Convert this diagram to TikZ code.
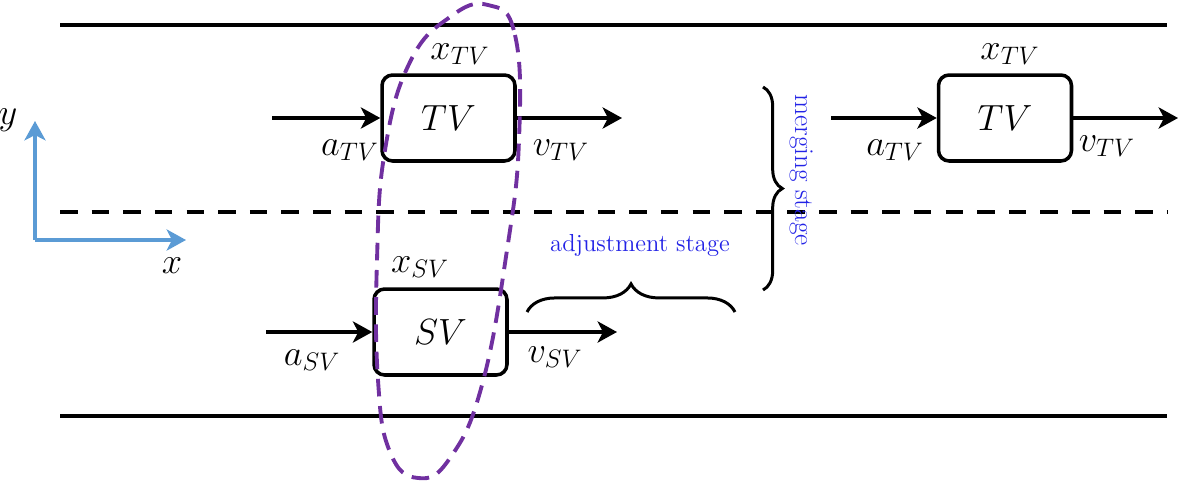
\documentclass[tikz,border=0pt]{standalone}
\usetikzlibrary{arrows.meta,decorations.pathreplacing,calc}
\definecolor{axisblue}{RGB}{91,155,213}
\definecolor{ellpurple}{RGB}{112,48,160}
\definecolor{txtblue}{RGB}{35,35,230}
\begin{document}
\begin{tikzpicture}[x=0.02cm,y=-0.02cm,
  road/.style={line width=2.3pt},
  laneline/.style={line width=2.3pt, dash pattern=on 10pt off 8pt},
  veh/.style={draw, line width=2pt, rounded corners=6pt, minimum width=2.66cm, minimum height=1.72cm, inner sep=0pt, font=\fontsize{22}{26}\selectfont},
  arr/.style={line width=2pt, -{Stealth[length=11pt,width=12pt,inset=3pt]}},
  axarr/.style={line width=2.3pt, axisblue, -{Stealth[length=11pt,width=12pt,inset=3pt]}},
  lbl/.style={inner sep=0pt, font=\fontsize{20}{24}\selectfont},
  ell/.style={line width=2.2pt, ellpurple, dash pattern=on 10pt off 5.5pt},
  bracestyle/.style={line width=1.7pt, decorate},
  stagetxt/.style={inner sep=0pt, text=txtblue}
]
\useasboundingbox (0,0) rectangle (1179,480);
% road
\coordinate (rtl) at (60,25); \coordinate (rtr) at (1167,25);
\coordinate (rbl) at (60,416); \coordinate (rbr) at (1167,416);
\coordinate (rml) at (60,212); \coordinate (rmr) at (1167,212);
\draw[road] (rtl) -- (rtr);
\draw[road] (rbl) -- (rbr);
\draw[laneline] (rml) -- (rmr);
% vehicles
\node[veh] (tv1) at (448.5,118) {$TV$};
\node[veh] (sv) at (440.5,332) {$SV$};
\node[veh] (tv2) at (1005,118) {$TV$};
% arrows
\coordinate (tv1in) at (272,118);
\coordinate (tv1out) at (622,118);
\coordinate (svin) at (266,332);
\coordinate (svout) at (617,332);
\coordinate (tv2in) at (831,118);
\coordinate (tv2out) at (1178,118);
\draw[arr] (tv1in) -- (tv1.west);
\draw[arr] (tv1.east) -- (tv1out);
\draw[arr] (svin) -- (sv.west);
\draw[arr] (sv.east) -- (svout);
\draw[arr] (tv2in) -- (tv2.west);
\draw[arr] (tv2.east) -- (tv2out);
% labels
\node[lbl] (xtv1) at (460,54) {$x_{TV}$};
\node[lbl] (atv1) at (350,150) {$a_{TV}$};
\node[lbl] (vtv1) at (561,150) {$v_{TV}$};
\node[lbl] (xsv) at (420,267) {$x_{SV}$};
\node[lbl] (asv) at (312,360) {$a_{SV}$};
\node[lbl] (vsv) at (555,357) {$v_{SV}$};
\node[lbl] (xtv2) at (1010,54) {$x_{TV}$};
\node[lbl] (atv2) at (895,150) {$a_{TV}$};
\node[lbl] (vtv2) at (1107,146) {$v_{TV}$};
% axes
\coordinate (o) at (35,240);
\coordinate (yend) at (35,121);
\coordinate (xend) at (186,240);
\draw[axarr] (o) -- (yend);
\draw[axarr] (o) -- (xend);
\node[lbl] (ylbl) at (8,120) {$y$};
\node[lbl] (xlbl) at (172,266) {$x$};
% dashed loop around TV and SV
\draw[ell] plot[smooth cycle, tension=0.75] coordinates {
  (488,5) (515,35) (519,140) (507,250) (482,385) (450,458)
  (418,478) (390,452) (378,380) (377,260) (385,150) (410,62) (450,17)};
% braces
\coordinate (b1a) at (527,312); \coordinate (b1b) at (735,312);
\draw[bracestyle, decoration={brace, amplitude=16pt}] (b1a) -- (b1b);
\node[stagetxt, font=\fontsize{14}{17}\selectfont] (adj) at (640,245) {adjustment stage};
\coordinate (b2a) at (763,87); \coordinate (b2b) at (763,290);
\draw[bracestyle, decoration={brace, amplitude=11pt}] (b2a) -- (b2b);
\node[stagetxt, font=\fontsize{15.5}{18}\selectfont, rotate=-90] (merge) at (801,170) {merging stage};
\end{tikzpicture}
\end{document}
